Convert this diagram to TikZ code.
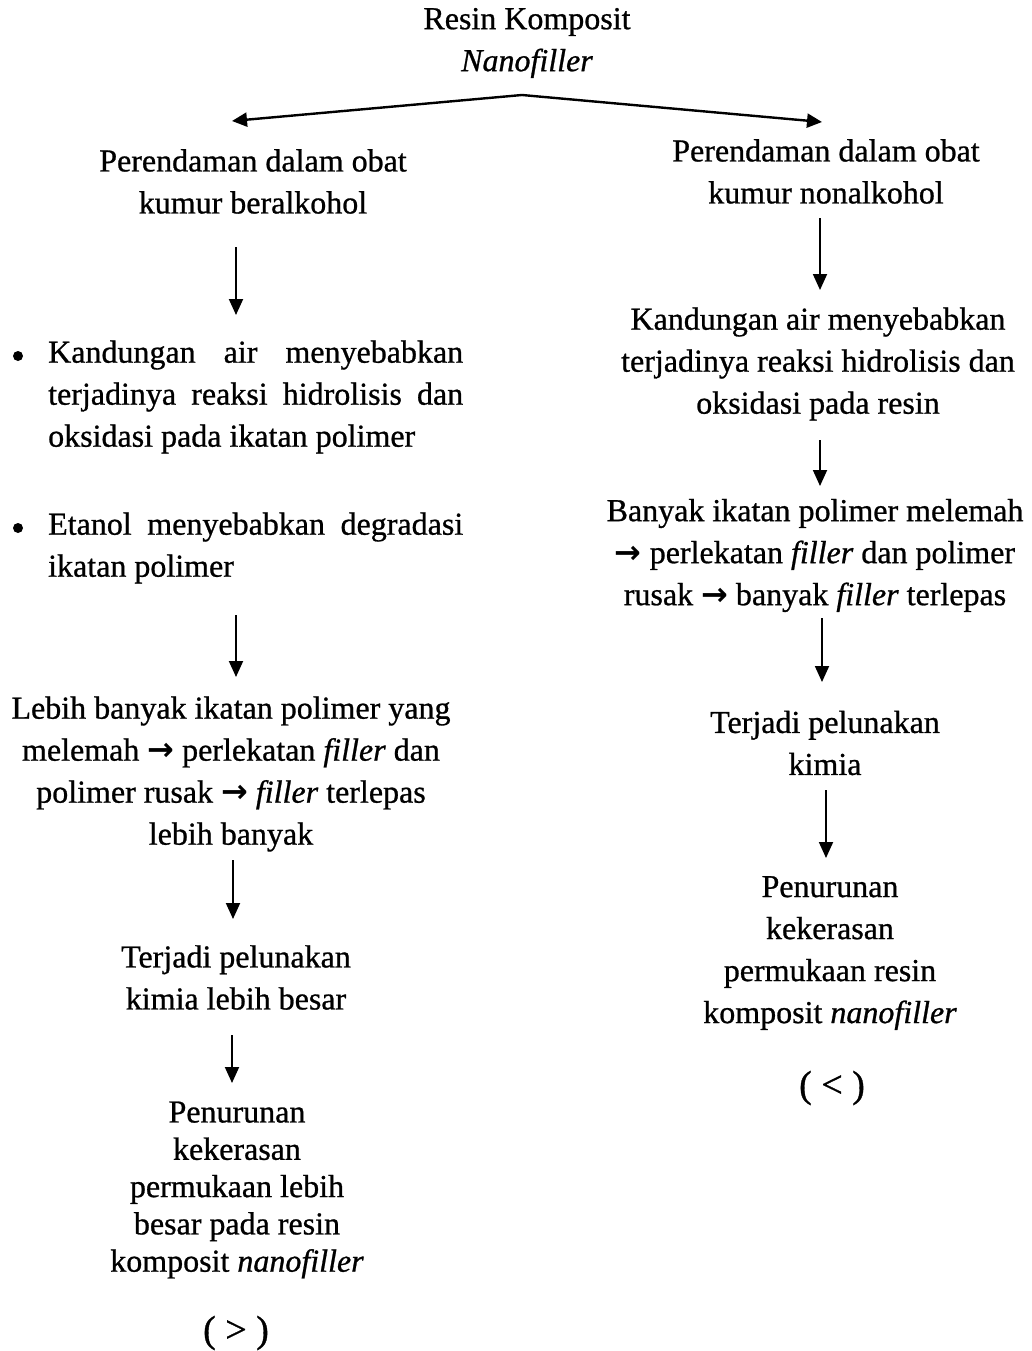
\documentclass[tikz,border=0pt]{standalone}
\usepackage{fontspec}
\setmainfont{Liberation Serif}[RawFeature={embolden=0.8}]
\newfontfamily\arrfont{DejaVu Sans}
\usetikzlibrary{arrows.meta}
\newcommand{\ra}{{\arrfont\bfseries →}}
\newcommand{\jl}[1]{\makebox[415pt][s]{#1}}
\begin{document}
\begin{tikzpicture}[x=1pt,y=-1pt,
  txt/.style={inner sep=0pt,align=center,font=\fontsize{32}{42}\selectfont},
  txtb/.style={inner sep=0pt,align=center,font=\fontsize{32}{37.3}\selectfont},
  sym/.style={inner sep=0pt,font=\fontsize{38}{42}\selectfont},
  arr/.style={line width=1.9pt,-{Triangle[length=16pt,width=14pt]}},
  arrtop/.style={line width=2.4pt,{Triangle[length=15pt,width=14pt]}-{Triangle[length=15pt,width=14pt]}}]
\useasboundingbox (0,0) rectangle (1031,1351);
% top
\node[txt] (top) at (527,43) {Resin Komposit\\\textit{Nanofiller}};
\coordinate (peak) at (522,95);
\coordinate (ltip) at (232,121);
\coordinate (rtip) at (822,122);
\draw[arrtop] (ltip) -- (peak) -- (rtip);
% left column
\node[txt] (L1) at (253,181.5) {Perendaman dalam obat\\kumur beralkohol};
\coordinate (a1s) at (236,247); \coordinate (a1e) at (236,315);
\draw[arr] (a1s) -- (a1e);
\fill (18,356) circle (5pt) coordinate (b1);
\node[txt,anchor=west,align=left] (L2) at (48,397) {\jl{Kandungan air menyebabkan}\\\jl{terjadinya reaksi hidrolisis dan}\\oksidasi pada ikatan polimer};
\fill (18,528) circle (5pt) coordinate (b2);
\node[txt,anchor=west,align=left] (L3) at (48,548) {\jl{Etanol menyebabkan degradasi}\\ikatan polimer};
\coordinate (a2s) at (236,615); \coordinate (a2e) at (236,677);
\draw[arr] (a2s) -- (a2e);
\node[txt] (L4) at (231,774) {Lebih banyak ikatan polimer yang\\melemah \ra{} perlekatan \textit{filler} dan\\polimer rusak \ra{} \textit{filler} terlepas\\lebih banyak};
\coordinate (a3s) at (233,860); \coordinate (a3e) at (233,919);
\draw[arr] (a3s) -- (a3e);
\node[txt] (L5) at (236,977.5) {Terjadi pelunakan\\kimia lebih besar};
\coordinate (a4s) at (232,1035); \coordinate (a4e) at (232,1083);
\draw[arr] (a4s) -- (a4e);
\node[txtb] (L6) at (237,1190) {Penurunan\\kekerasan\\permukaan lebih\\besar pada resin\\komposit \textit{nanofiller}};
\node[sym] (L7) at (236,1333) {( > )};
% right column
\node[txt] (R1) at (826,171.5) {Perendaman dalam obat\\kumur nonalkohol};
\coordinate (b1s) at (820,218); \coordinate (b1e) at (820,290);
\draw[arr] (b1s) -- (b1e);
\node[txt] (R2) at (818,364) {Kandungan air menyebabkan\\terjadinya reaksi hidrolisis dan\\oksidasi pada resin};
\coordinate (b2s) at (820,440); \coordinate (b2e) at (820,486);
\draw[arr] (b2s) -- (b2e);
\node[txt] (R3) at (815,555.5) {Banyak ikatan polimer melemah\\\ra{} perlekatan \textit{filler} dan polimer\\rusak \ra{} banyak \textit{filler} terlepas};
\coordinate (b3s) at (822,618); \coordinate (b3e) at (822,682);
\draw[arr] (b3s) -- (b3e);
\node[txt] (R4) at (825,743) {Terjadi pelunakan\\kimia};
\coordinate (b4s) at (826,790); \coordinate (b4e) at (826,858);
\draw[arr] (b4s) -- (b4e);
\node[txt] (R5) at (830,953) {Penurunan\\kekerasan\\permukaan resin\\komposit \textit{nanofiller}};
\node[sym] (R6) at (832,1088) {( < )};
\end{tikzpicture}
\end{document}
